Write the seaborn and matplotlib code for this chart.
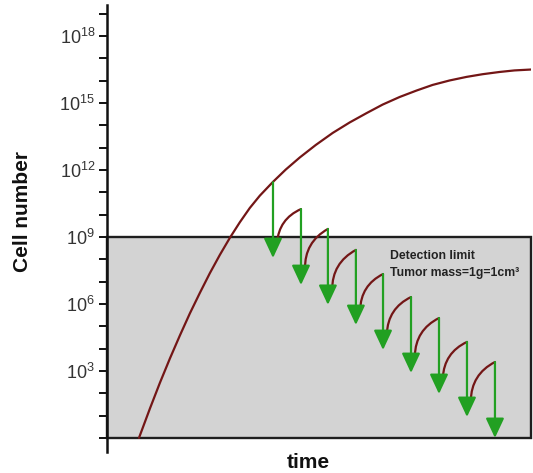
import matplotlib
matplotlib.use("Agg")
import matplotlib.pyplot as plt
from matplotlib import font_manager
import numpy as np
import pandas as pd
import seaborn as sns

# ---------------- data ----------------
# main (untreated) growth curve: time vs log10(cell number)
time_main = [7.54, 10.13, 12.48, 14.84, 17.19, 19.55, 21.91, 24.26, 26.62,
             28.97, 31.33, 33.68, 36.04, 39.10, 42.16, 45.46, 49.23, 53.23,
             57.24, 61.24, 65.01, 69.02, 73.02, 76.79, 80.80, 84.80, 88.57,
             92.57, 96.10, 100.0]
log_main = [0.0, 1.32, 2.47, 3.56, 4.59, 5.58, 6.50, 7.38, 8.20,
            8.96, 9.66, 10.30, 10.85, 11.46, 12.02, 12.56, 13.12, 13.66,
            14.13, 14.55, 14.93, 15.27, 15.56, 15.81, 16.01, 16.17, 16.29,
            16.39, 16.46, 16.50]

# treatment cycles: green arrows (time, log10 top, log10 tip)
arrow_time = [39.15, 45.75, 52.1, 58.7, 65.1, 71.7, 78.3, 84.9, 91.5]
arrow_top = [11.45, 10.25, 9.36, 8.42, 7.34, 6.31, 5.37, 4.30, 3.40]
arrow_tip = [8.06, 6.85, 5.96, 5.06, 3.94, 2.91, 1.97, 0.94, 0.0]

# regrowth between cycles: start point (time, log10)
regrow_time = [40.1, 46.7, 53.1, 59.7, 66.0, 72.6, 79.2, 85.8]
regrow_start = [8.73, 7.57, 6.63, 5.73, 4.66, 3.67, 2.69, 1.66]

detect_limit_log = 9
tick_exps = list(range(0, 20))
label_exps = [3, 6, 9, 12, 15, 18]
texts = ["Detection limit", "Tumor mass=1g=1cm\u00b3"]

# ---------------- style ----------------
sns.set_theme(style="white")
names = {f.name for f in font_manager.fontManager.ttflist}
main_font = "Liberation Sans" if "Liberation Sans" in names else "DejaVu Sans"
plt.rcParams["font.family"] = [main_font, "DejaVu Sans"]
plt.rcParams["mathtext.fontset"] = "custom"
plt.rcParams["mathtext.rm"] = main_font
plt.rcParams["mathtext.it"] = main_font

RED = "#731616"
GREEN = "#22a022"
GRAY = "#d3d3d3"
EDGE = "#1e1e1e"

fig = plt.figure(figsize=(5.33, 4.73), dpi=100)
ax = fig.add_axes([107 / 533, 21 / 473, (531 - 107) / 533, (452 - 5) / 473])

ax.set_yscale("log")
ax.set_xlim(0, 100)
ax.set_ylim(10 ** -0.63, 10 ** 19.39)

# detection-limit box
ax.axhspan(1, 10 ** detect_limit_log, xmin=0, xmax=1, facecolor=GRAY,
           edgecolor=EDGE, lw=1.7, zorder=1, clip_on=False)

# main growth curve
df = pd.DataFrame({"time": time_main, "cells": [10 ** v for v in log_main]})
sns.lineplot(data=df, x="time", y="cells", ax=ax, color=RED, lw=1.6,
             sort=False, estimator=None, zorder=3)

# regrowth curves
for i in range(len(regrow_time)):
    ax.annotate("", xy=(arrow_time[i + 1], 10 ** arrow_top[i + 1]),
                xytext=(regrow_time[i], 10 ** regrow_start[i]),
                arrowprops=dict(arrowstyle="-", color=RED, lw=1.6,
                                connectionstyle="arc3,rad=-0.3",
                                shrinkA=0, shrinkB=0), zorder=3)

# treatment arrows
for t, top, tip in zip(arrow_time, arrow_top, arrow_tip):
    ax.annotate("", xy=(t, 10 ** tip), xytext=(t, 10 ** top),
                arrowprops=dict(arrowstyle="-|>,head_length=0.6,head_width=0.28",
                                mutation_scale=20, color=GREEN, lw=1.6,
                                shrinkA=0, shrinkB=0), zorder=4)

# text
ax.text(66.7, 10 ** 8.15, texts[0], fontsize=8.8, fontweight="bold",
        color="#222222", ha="left", va="center", zorder=5)
ax.text(66.7, 10 ** 7.4, texts[1], fontsize=8.8, fontweight="bold",
        color="#222222", ha="left", va="center", zorder=5)

# axes styling
for s in ["top", "right", "bottom"]:
    ax.spines[s].set_visible(False)
ax.spines["left"].set_color("#111111")
ax.spines["left"].set_linewidth(1.8)
ax.set_xticks([])
ax.set_yticks([10 ** e for e in tick_exps])
ax.set_yticklabels([r"$\mathregular{10^{%d}}$" % e if e in label_exps else ""
                    for e in tick_exps])
ax.yaxis.set_minor_locator(matplotlib.ticker.NullLocator())
ax.tick_params(axis="y", which="major", direction="out", length=5.5, width=1.4,
               color="#111111", labelsize=13, labelcolor="#333333", pad=3, left=True)
ax.set_xlabel("")
ax.set_ylabel("")
ax.grid(False)

fig.text(308 / 533, 1 - 462 / 473, "time", fontsize=15, fontweight="bold",
         ha="center", va="center", color="#111111")
fig.text(23 / 533, 1 - 211 / 473, "Cell number", fontsize=15, fontweight="bold",
         ha="center", va="center", rotation=90, color="#111111")

fig.savefig("out.png", dpi=100)
